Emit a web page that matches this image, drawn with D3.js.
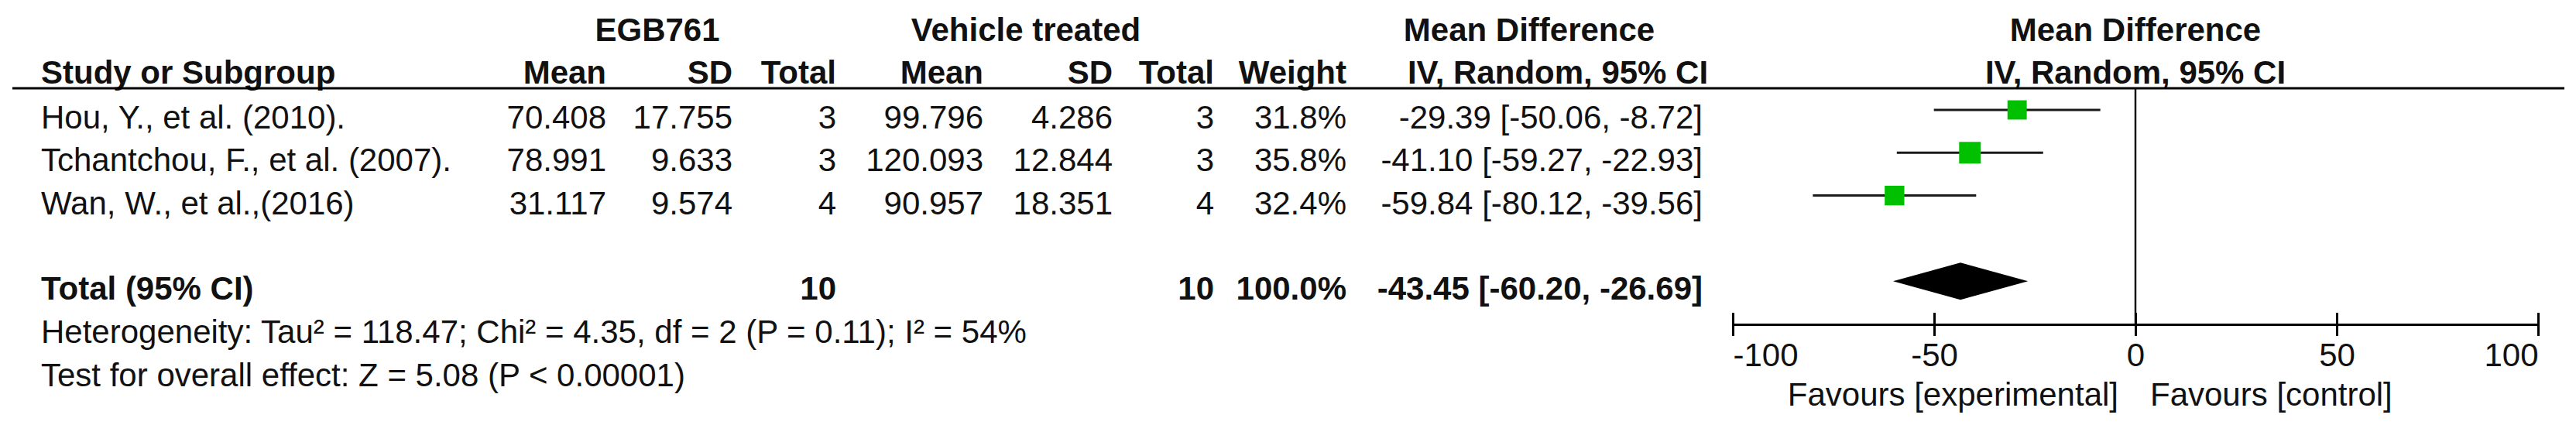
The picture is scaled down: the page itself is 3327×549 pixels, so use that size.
<!DOCTYPE html>
<html>
<head>
<meta charset="utf-8">
<script src="https://cdn.jsdelivr.net/npm/d3@7"></script>
<style>
  body { margin: 0; background: #fff; }
  svg text { font-family: "Liberation Sans", Arial, sans-serif; font-size: 42px; fill: #111; }
  .b { font-weight: bold; }
</style>
</head>
<body>
<svg width="3327" height="549"></svg>
<script>
// study rows
var studies = ["Hou, Y., et al. (2010).", "Tchantchou, F., et al. (2007).", "Wan, W., et al.,(2016)"];
var expMean = [70.408, 78.991, 31.117];
var expSD = [17.755, 9.633, 9.574];
var expN = [3, 3, 4];
var ctlMean = [99.796, 120.093, 90.957];
var ctlSD = [4.286, 12.844, 18.351];
var ctlN = [3, 3, 4];
var weights = [31.8, 35.8, 32.4];
var md = [-29.39, -41.10, -59.84];
var ciLow = [-50.06, -59.27, -80.12];
var ciHigh = [-8.72, -22.93, -39.56];

// pooled
var totalN = [10, 10];
var totalWeight = 100.0;
var totalMD = -43.45, totalLow = -60.20, totalHigh = -26.69;

var axisTicks = [-100, -50, 0, 50, 100];
var heterogeneity = "Heterogeneity: Tau² = 118.47; Chi² = 4.35, df = 2 (P = 0.11); I² = 54%";
var overall = "Test for overall effect: Z = 5.08 (P < 0.00001)";

var svg = d3.select("svg");
var f3 = d3.format(".3f"), f2 = d3.format(".2f"), f1 = d3.format(".1f");
var fmt2 = function (v) { return f2(v).replace("−", "-"); };

var x = d3.scaleLinear().domain([-100, 100]).range([2238, 3278]);
var rowY = d3.scaleLinear().domain([0, 1]).range([142, 197.3]);
var boxSize = d3.scaleLinear().domain([0, 35.8]).range([0, 28]);
var textOff = 24;

// column right edges
var cols = { eMean: 783, eSD: 946, eN: 1080, cMean: 1270, cSD: 1437, cN: 1568, w: 1739, ci: 2199 };

// headers
svg.append("text").attr("class", "b").attr("x", 849).attr("y", 53).attr("text-anchor", "middle").text("EGB761");
svg.append("text").attr("class", "b").attr("x", 1325).attr("y", 53).attr("text-anchor", "middle").text("Vehicle treated");
svg.append("text").attr("class", "b").attr("x", 1975).attr("y", 53).attr("text-anchor", "middle").text("Mean Difference");
svg.append("text").attr("class", "b").attr("x", x(0)).attr("y", 53).attr("text-anchor", "middle").text("Mean Difference");

svg.append("text").attr("class", "b").attr("x", 53).attr("y", 108).text("Study or Subgroup");
var h2 = [["Mean", cols.eMean], ["SD", cols.eSD], ["Total", cols.eN], ["Mean", cols.cMean], ["SD", cols.cSD], ["Total", cols.cN], ["Weight", cols.w]];
h2.forEach(function (h) {
    svg.append("text").attr("class", "b").attr("x", h[1]).attr("y", 108).attr("text-anchor", "end").text(h[0]);
});
svg.append("text").attr("class", "b").attr("x", 2012).attr("y", 108).attr("text-anchor", "middle").text("IV, Random, 95% CI");
svg.append("text").attr("class", "b").attr("x", x(0)).attr("y", 108).attr("text-anchor", "middle").text("IV, Random, 95% CI");

svg.append("line").attr("x1", 16).attr("x2", 3312).attr("y1", 114).attr("y2", 114)
    .attr("stroke", "#000").attr("stroke-width", 3);

// zero line
svg.append("line").attr("x1", x(0)).attr("x2", x(0)).attr("y1", 114).attr("y2", 419)
    .attr("stroke", "#111").attr("stroke-width", 2.5);

// study rows text
var rows = svg.append("g").selectAll("g").data(studies).enter().append("g")
    .attr("transform", function (d, i) { return "translate(0," + (rowY(i) + textOff) + ")"; });
rows.append("text").attr("x", 53).text(function (d) { return d; });
function rcol(xpos, fn) {
    rows.append("text").attr("x", xpos).attr("text-anchor", "end").text(fn);
}
rcol(cols.eMean, function (d, i) { return f3(expMean[i]); });
rcol(cols.eSD, function (d, i) { return f3(expSD[i]); });
rcol(cols.eN, function (d, i) { return expN[i]; });
rcol(cols.cMean, function (d, i) { return f3(ctlMean[i]); });
rcol(cols.cSD, function (d, i) { return f3(ctlSD[i]); });
rcol(cols.cN, function (d, i) { return ctlN[i]; });
rcol(cols.w, function (d, i) { return f1(weights[i]) + "%"; });
rcol(cols.ci, function (d, i) { return fmt2(md[i]) + " [" + fmt2(ciLow[i]) + ", " + fmt2(ciHigh[i]) + "]"; });

// CI lines and boxes
var marks = svg.append("g").selectAll("g").data(md).enter().append("g");
marks.append("line")
    .attr("x1", function (d, i) { return x(ciLow[i]); })
    .attr("x2", function (d, i) { return x(ciHigh[i]); })
    .attr("y1", function (d, i) { return rowY(i); })
    .attr("y2", function (d, i) { return rowY(i); })
    .attr("stroke", "#1a1a1a").attr("stroke-width", 3);
marks.append("rect")
    .attr("x", function (d, i) { return x(d) - boxSize(weights[i]) / 2; })
    .attr("y", function (d, i) { return rowY(i) - boxSize(weights[i]) / 2; })
    .attr("width", function (d, i) { return boxSize(weights[i]); })
    .attr("height", function (d, i) { return boxSize(weights[i]); })
    .attr("fill", "#00c000");

// total row
var ty = rowY(4);
svg.append("text").attr("class", "b").attr("x", 53).attr("y", ty + textOff).text("Total (95% CI)");
svg.append("text").attr("class", "b").attr("x", cols.eN).attr("y", ty + textOff).attr("text-anchor", "end").text(totalN[0]);
svg.append("text").attr("class", "b").attr("x", cols.cN).attr("y", ty + textOff).attr("text-anchor", "end").text(totalN[1]);
svg.append("text").attr("class", "b").attr("x", cols.w).attr("y", ty + textOff).attr("text-anchor", "end").text(f1(totalWeight) + "%");
svg.append("text").attr("class", "b").attr("x", cols.ci).attr("y", ty + textOff).attr("text-anchor", "end")
    .text(fmt2(totalMD) + " [" + fmt2(totalLow) + ", " + fmt2(totalHigh) + "]");

svg.append("path")
    .attr("d", "M" + x(totalLow) + "," + ty + "L" + x(totalMD) + "," + (ty - 24) +
        "L" + x(totalHigh) + "," + ty + "L" + x(totalMD) + "," + (ty + 24) + "Z")
    .attr("fill", "#000");

svg.append("text").attr("x", 53).attr("y", 443).text(heterogeneity);
svg.append("text").attr("x", 53).attr("y", 499).text(overall);

// axis
var axis = svg.append("g").attr("transform", "translate(0,419)")
    .call(d3.axisBottom(x).tickValues(axisTicks).tickSizeOuter(0).tickSizeInner(15).tickFormat(d3.format("d")));
axis.select(".domain").attr("stroke", "#000").attr("stroke-width", 3);
axis.selectAll(".tick line").attr("y1", -15).attr("y2", 15).attr("stroke", "#000").attr("stroke-width", 3);
axis.selectAll(".tick text")
    .attr("y", 54).attr("dy", 0)
    .style("fill", "#111")
    .attr("text-anchor", function (d, i) { return i === 0 ? "start" : (i === axisTicks.length - 1 ? "end" : "middle"); })
    .text(function (d) { return String(d); });
axis.attr("font-size", null).attr("font-family", null);

svg.append("text").attr("x", x(0) - 22).attr("y", 524).attr("text-anchor", "end").text("Favours [experimental]");
svg.append("text").attr("x", x(0) + 19).attr("y", 524).text("Favours [control]");
</script>
</body>
</html>
